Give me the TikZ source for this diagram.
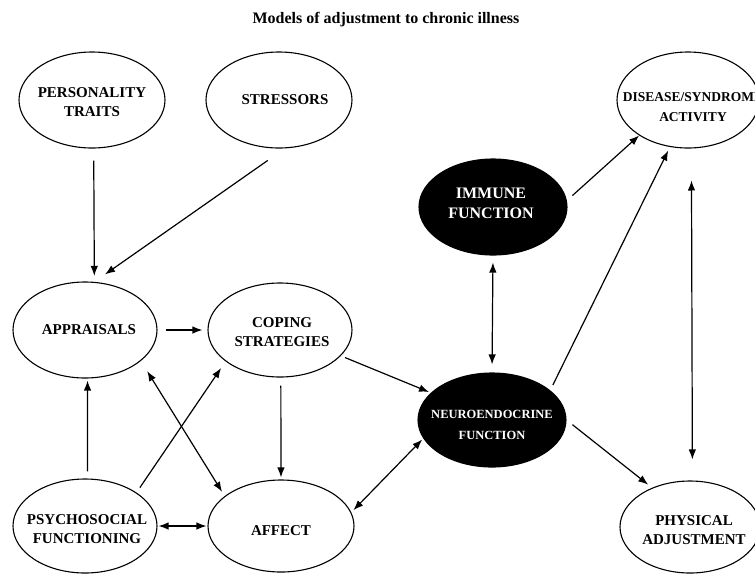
\documentclass[tikz,border=0pt]{standalone}
\usepackage{fontspec}
\setmainfont{Liberation Serif}
\usetikzlibrary{shapes.geometric,arrows.meta}
\begin{document}
\begin{tikzpicture}[x=1pt,y=-1pt,
  oval/.style={draw, ellipse, line width=1.1pt, inner sep=0pt},
  darkoval/.style={oval, fill=black},
  lbl/.style={align=center, font=\fontsize{15}{19.5}\selectfont\bfseries, inner sep=0pt},
  arr/.style={line width=1.2pt, -{Latex[length=10pt,width=7.5pt]}},
  darr/.style={line width=1.2pt, {Latex[length=10pt,width=7.5pt]}-{Latex[length=10pt,width=7.5pt]}}
]
\useasboundingbox (0,0) rectangle (755,574);

% title
\node[font=\fontsize{16}{18}\selectfont\bfseries, inner sep=0pt] (title) at (386,20) {Models of adjustment to chronic illness};

% ellipses
\node[oval, minimum width=146pt, minimum height=96pt] (pers) at (92,100) {};
\node[oval, minimum width=146pt, minimum height=96pt] (stress) at (279,100) {};
\node[oval, minimum width=144pt, minimum height=96pt] (appr) at (85,330) {};
\node[oval, minimum width=144pt, minimum height=94pt] (cope) at (280,330) {};
\node[oval, minimum width=144pt, minimum height=94pt] (psych) at (85,526) {};
\node[oval, minimum width=146pt, minimum height=92pt] (affect) at (281,526) {};
\node[darkoval, minimum width=148pt, minimum height=94pt] (neuro) at (492,420) {};
\node[darkoval, minimum width=148pt, minimum height=96pt] (immune) at (493,207) {};
\node[oval, minimum width=142pt, minimum height=96pt] (disease) at (688,100) {};
\node[oval, minimum width=140pt, minimum height=92pt] (phys) at (690,527) {};

% labels
\node[lbl] (persT) at (92,102) {PERSONALITY\\TRAITS};
\node[lbl] (stressT) at (285,100) {STRESSORS};
\node[lbl] (apprT) at (89,330) {APPRAISALS};
\node[lbl] (copeT) at (282,332) {COPING\\STRATEGIES};
\node[lbl] (psychT) at (87,529) {PSYCHOSOCIAL\\FUNCTIONING};
\node[lbl] (affectT) at (281,531) {AFFECT};
\node[lbl, text=white, font=\fontsize{12.5}{21}\selectfont\bfseries] (neuroT) at (492,425) {NEUROENDOCRINE\\FUNCTION};
\node[lbl, text=white, font=\fontsize{16}{20}\selectfont\bfseries] (immuneT) at (491,203) {IMMUNE\\FUNCTION};
\node[lbl, font=\fontsize{13.5}{20}\selectfont\bfseries] (diseaseT) at (693,107) {DISEASE/SYNDROME\\ACTIVITY};
\node[lbl] (physT) at (694,530) {PHYSICAL\\ADJUSTMENT};

% connectors
\draw[arr, shorten <=12pt, shorten >=6pt] (pers.-88) -- (appr.79);
\draw[arr, shorten <=21pt, shorten >=13pt] (stress.-83) -- (appr.79);
\draw[arr, shorten <=8pt, shorten >=5pt] (appr.east) -- (cope.west);
\draw[arr, shorten <=7pt, shorten >=2pt] (psych.87) -- (appr.-87);
\draw[arr, shorten <=6pt, shorten >=8pt] (psych.33) -- (cope.210);
\draw[darr, shorten <=12pt, shorten >=5pt] (appr.-29) -- (affect.152);
\draw[arr, shorten <=8pt, shorten >=2pt] (cope.-89) -- (affect.90);
\draw[darr, shorten <=1pt, shorten >=1pt] (psych.east) -- (affect.west);
\draw[arr, shorten <=4.5pt, shorten >=2pt] (cope.-23) -- (neuro.156);
\draw[darr, shorten <=3pt, shorten >=1.5pt] (affect.11) -- (neuro.195);
\draw[darr, shorten <=7pt, shorten >=8pt] (immune.south) -- (neuro.north);
\draw[arr, shorten <=7.5pt, shorten >=0pt] (immune.5) -- (disease.216);
\draw[arr, shorten <=6pt, shorten >=4pt] (neuro.27) -- (disease.249);
\draw[darr, shorten <=32pt, shorten >=21pt] (disease.-86) -- (phys.87);
\draw[arr, shorten <=7.5pt, shorten >=5pt] (neuro.east) -- (phys.134);
\end{tikzpicture}
\end{document}
